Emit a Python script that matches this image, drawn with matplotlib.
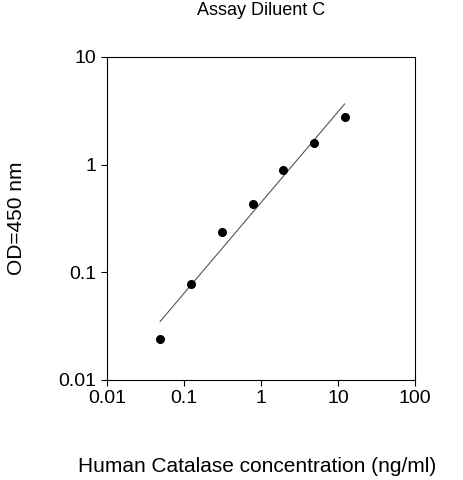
import matplotlib
matplotlib.use("Agg")
import matplotlib.pyplot as plt
from matplotlib.ticker import FixedLocator, NullLocator

plt.rcParams['font.family'] = ['Liberation Sans', 'DejaVu Sans']

conc = [0.049, 0.122, 0.31, 0.78, 1.95, 4.88, 12.2]
od = [0.024, 0.078, 0.237, 0.43, 0.89, 1.6, 2.75]
fit_x = [0.049, 12.2]
fit_y = [0.035, 3.66]
xticks = [0.01, 0.1, 1, 10, 100]
xlabels = ['0.01', '0.1', '1', '10', '100']
yticks = [0.01, 0.1, 1, 10]
ylabels = ['0.01', '0.1', '1', '10']

fig = plt.figure(figsize=(4.63, 4.80), dpi=100)
ax = fig.add_axes([107/463, 1-380/480, 308/463, 323/480])
ax.plot(fit_x, fit_y, color='#555555', lw=0.8)
ax.plot(conc, od, 'o', color='black', ms=5.5)
ax.set_xscale('log'); ax.set_yscale('log')
ax.set_xlim(0.01, 100); ax.set_ylim(0.01, 10)
ax.xaxis.set_major_locator(FixedLocator(xticks)); ax.set_xticklabels(xlabels)
ax.yaxis.set_major_locator(FixedLocator(yticks)); ax.set_yticklabels(ylabels)
ax.xaxis.set_minor_locator(NullLocator()); ax.yaxis.set_minor_locator(NullLocator())
ax.tick_params(labelsize=14, length=4, direction='out')
ax.set_title('Assay Diluent C', fontsize=13, pad=30)
fig.text(257/463, 1-466/480, 'Human Catalase concentration (ng/ml)', fontsize=15, ha='center', va='center')
fig.text(17/463, 1-218/480, 'OD=450 nm', fontsize=15, rotation=90, ha='center', va='center')
fig.savefig('out.png', dpi=100)
